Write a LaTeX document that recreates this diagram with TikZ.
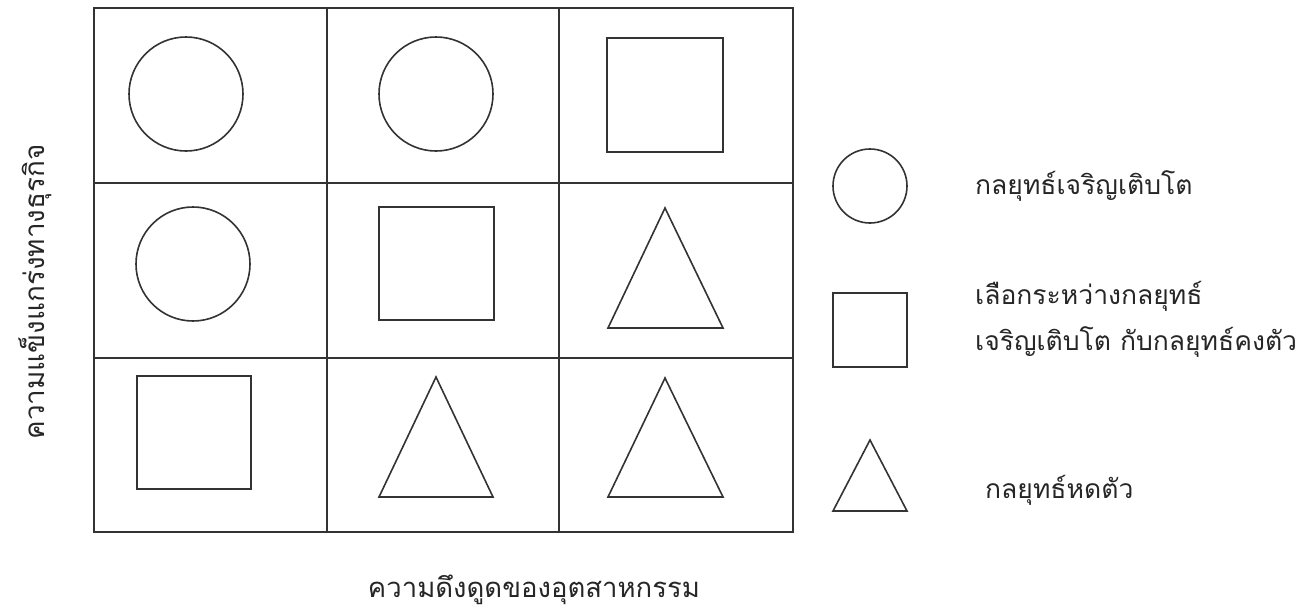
\documentclass[tikz,border=0pt]{standalone}
\usepackage{fontspec}
\newfontfamily\thaifont[Script=Thai]{Loma}
\newlength\lgtwowidth
\newcommand\lgscale{1}
\AtBeginDocument{%
  \settowidth\lgtwowidth{\thaifont เจริญเติบโต กับกลยุทธ์คงตัว}%
  \pgfmathsetmacro\lgtmp{322/\lgtwowidth}%
  \xdef\lgscale{\lgtmp}}
\begin{document}
\begin{tikzpicture}[x=1pt,y=-1pt,
  gridline/.style={line width=1.5pt,draw=black!80},
  shapeline/.style={line width=1.6pt,draw=black!80},
  label/.style={inner sep=0pt,font=\thaifont,text=black!85}]
\useasboundingbox (0,0) rectangle (1315,614);
% grid
\draw[gridline] (94,8) rectangle (793,532);
\draw[gridline] (327,8) -- (327,532);
\draw[gridline] (559,8) -- (559,532);
\draw[gridline] (94,183) -- (793,183);
\draw[gridline] (94,358) -- (793,358);
% circles
\draw[shapeline] (186,94) circle[radius=57];
\draw[shapeline] (436,94) circle[radius=57];
\draw[shapeline] (193,264) circle[radius=57];
\draw[shapeline] (870,186) circle[radius=37];
% squares
\draw[shapeline] (607,38) rectangle (723,152);
\draw[shapeline] (379,207) rectangle (494,320);
\draw[shapeline] (137,376) rectangle (251,489);
\draw[shapeline] (833,293) rectangle (907,367);
% triangles
\draw[shapeline] (665,208) -- (723,328) -- (608,328) -- cycle;
\draw[shapeline] (436,377) -- (493,497) -- (379,497) -- cycle;
\draw[shapeline] (665,378) -- (723,497) -- (608,497) -- cycle;
\draw[shapeline] (870,440) -- (907,511) -- (833,511) -- cycle;
% legend texts
\node[label,anchor=west] (lg1) at (975,186) {\scalebox{\lgscale}{กลยุทธ์เจริญเติบโต}};
\node[label,anchor=west] (lg2a) at (975,296) {\scalebox{\lgscale}{เลือกระหว่างกลยุทธ์}};
\node[label,anchor=west] (lg2b) at (975,342) {\scalebox{\lgscale}{เจริญเติบโต กับกลยุทธ์คงตัว}};
\node[label,anchor=west] (lg3) at (985,490) {\scalebox{\lgscale}{กลยุทธ์หดตัว}};
% axis labels
\node[label] (xlab) at (534,590) {\resizebox{332pt}{!}{ความดึงดูดของอุตสาหกรรม}};
\node[label,rotate=90] (ylab) at (35,292) {\resizebox{295pt}{!}{ความแข็งแกร่งทางธุรกิจ}};
\end{tikzpicture}
\end{document}
